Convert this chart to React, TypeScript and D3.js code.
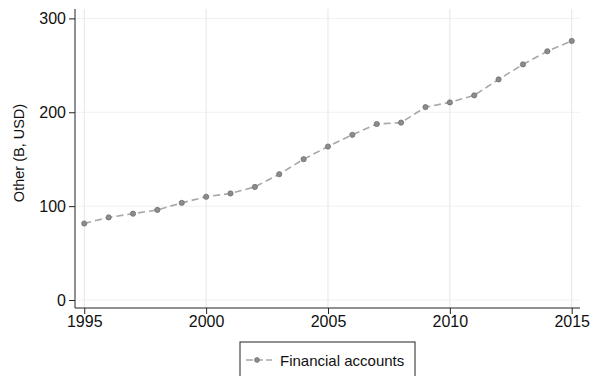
import React, { useEffect, useRef } from "react";
import * as d3 from "d3";

const years = [1995, 1996, 1997, 1998, 1999, 2000, 2001, 2002, 2003, 2004, 2005,
  2006, 2007, 2008, 2009, 2010, 2011, 2012, 2013, 2014, 2015];
const otherValues = [81.5, 88, 92, 96, 103.5, 110, 113.5, 120.5, 134, 150, 163.5,
  176, 187.5, 189, 205.5, 210.5, 218, 235, 251, 265, 276];
const xTicks = [1995, 2000, 2005, 2010, 2015];
const yTicks = [0, 100, 200, 300];
const seriesName = "Financial accounts";
const yLabel = "Other (B, USD)";

const W = 596;
const H = 376;

const LineChart = () => {
  const svgRef = useRef<SVGSVGElement>(null);

  useEffect(() => {
    const svg = d3.select(svgRef.current);
    svg.selectAll("*").remove();

    const left = 75, right = 580, top = 9, bottom = 308;
    const x = d3.scaleLinear().domain([1994.62, 2015.34]).range([left, right]);
    const y = d3.scaleLinear().domain([-8.5, 310]).range([bottom, top]);
    const font = "Liberation Sans, Arial, sans-serif";

    // grid
    svg.append("g")
      .selectAll("line")
      .data(yTicks)
      .enter().append("line")
      .attr("x1", left).attr("x2", right)
      .attr("y1", d => y(d)).attr("y2", d => y(d))
      .attr("stroke", "#eef2f2").attr("stroke-width", 1);
    svg.append("g")
      .selectAll("line")
      .data(xTicks)
      .enter().append("line")
      .attr("x1", d => x(d)).attr("x2", d => x(d))
      .attr("y1", top).attr("y2", bottom)
      .attr("stroke", "#e6e6e6").attr("stroke-width", 1);

    // axes
    const yAxis = svg.append("g")
      .attr("transform", `translate(${left},0)`)
      .call(d3.axisLeft(y).tickValues(yTicks).tickSize(6).tickPadding(3).tickSizeOuter(0));
    yAxis.select(".domain").attr("d", `M0,${top}V${bottom}`).attr("stroke", "#222");
    yAxis.selectAll(".tick line").attr("stroke", "#222");
    yAxis.selectAll("text").attr("font-size", 16).attr("font-family", font).attr("fill", "#111");

    const xAxis = svg.append("g")
      .attr("transform", `translate(0,${bottom})`)
      .call(d3.axisBottom(x).tickValues(xTicks).tickFormat(d3.format("d")).tickSize(6).tickPadding(2).tickSizeOuter(0));
    xAxis.select(".domain").attr("d", `M${left},0H${right}`).attr("stroke", "#222");
    xAxis.selectAll(".tick line").attr("stroke", "#222");
    xAxis.selectAll("text").attr("font-size", 16).attr("font-family", font).attr("fill", "#111");

    svg.append("text")
      .attr("transform", `translate(24,153) rotate(-90)`)
      .attr("text-anchor", "middle")
      .attr("font-size", 14.5)
      .attr("font-family", font)
      .attr("fill", "#111")
      .text(yLabel);

    const pts = years.map((yr, i) => [yr, otherValues[i]] as [number, number]);
    const line = d3.line<[number, number]>().x(d => x(d[0])).y(d => y(d[1]));

    svg.append("path")
      .datum(pts)
      .attr("d", line)
      .attr("fill", "none")
      .attr("stroke", "#a8a8a8")
      .attr("stroke-width", 1.6)
      .attr("stroke-dasharray", "7,4");

    svg.append("g")
      .selectAll("circle")
      .data(pts)
      .enter().append("circle")
      .attr("cx", d => x(d[0]))
      .attr("cy", d => y(d[1]))
      .attr("r", 2.6)
      .attr("fill", "#8c8c8c")
      .attr("stroke", "#707070")
      .attr("stroke-width", 0.8);

    // legend
    const lg = svg.append("g");
    lg.append("rect")
      .attr("x", 240).attr("y", 342).attr("width", 175).attr("height", 40)
      .attr("fill", "white").attr("stroke", "#222").attr("stroke-width", 1);
    lg.append("line")
      .attr("x1", 246).attr("x2", 272).attr("y1", 360).attr("y2", 360)
      .attr("stroke", "#a8a8a8").attr("stroke-width", 1.4).attr("stroke-dasharray", "7,3");
    lg.append("circle")
      .attr("cx", 257).attr("cy", 360).attr("r", 2.4)
      .attr("fill", "#8c8c8c").attr("stroke", "#707070").attr("stroke-width", 0.8);
    lg.append("text")
      .attr("x", 280).attr("y", 365.5)
      .attr("font-size", 15).attr("font-family", font).attr("fill", "#111")
      .text(seriesName);
  }, []);

  return <svg ref={svgRef} width={W} height={H} style={{ display: "block" }}></svg>;
};

const App = () => {
  return (
    <div style={{ position: "absolute", left: 0, top: 0 }}>
      <LineChart />
    </div>
  );
};

export default App;
